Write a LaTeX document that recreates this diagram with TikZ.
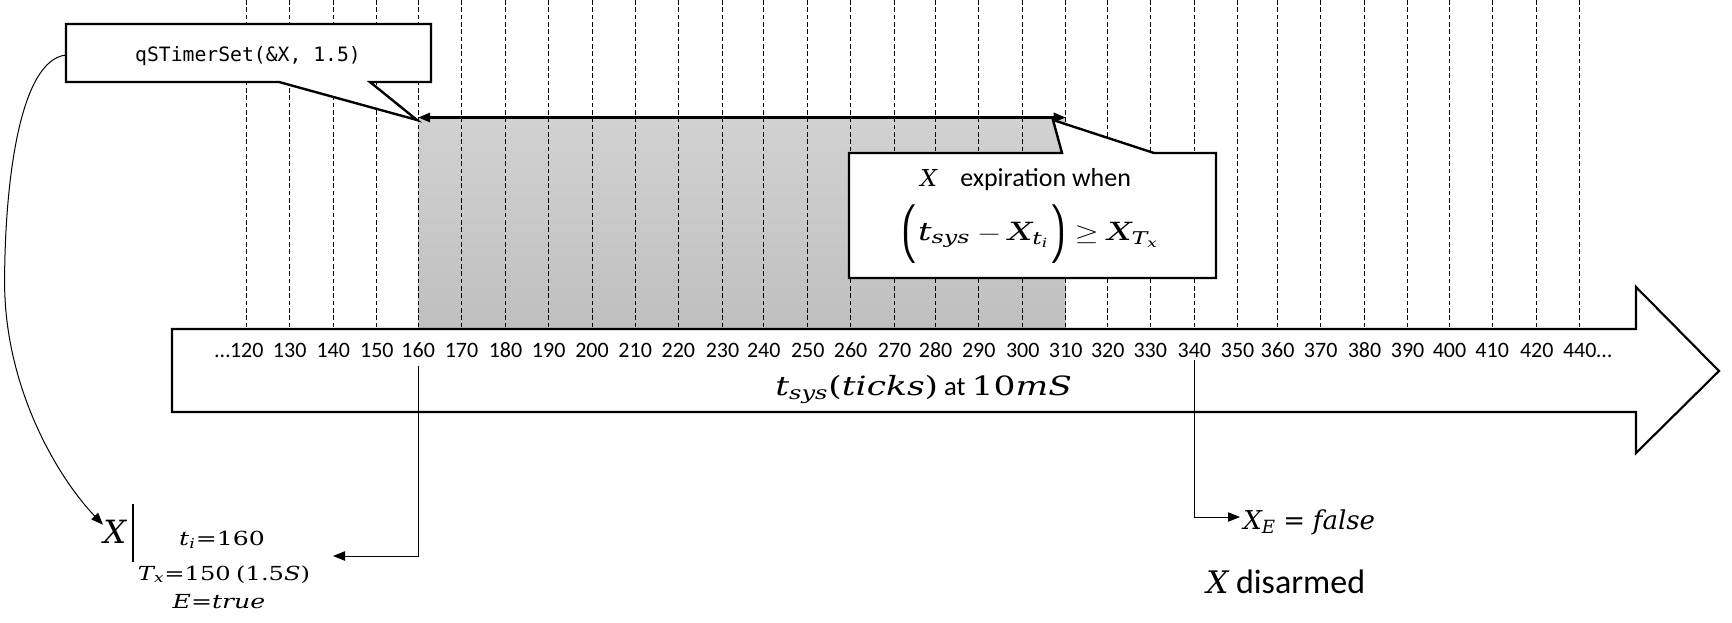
\documentclass[tikz,border=0pt]{standalone}
\usepackage{graphicx}
\usepackage[no-math]{fontspec}
\setmainfont{Carlito}
\setmonofont{DejaVu Sans Mono}
\newfontfamily\dvs[NFSSFamily=dvserif]{DejaVu Serif}
\DeclareSymbolFont{operators}{TU}{dvserif}{m}{n}
\DeclareSymbolFont{letters}{TU}{dvserif}{m}{it}
\mathcode`.="002E
\mathcode`,="602C
\usetikzlibrary{arrows.meta}
\newcommand\fsz[1]{\fontsize{#1}{#1}\selectfont}
\tikzset{
  dashline/.style={line width=0.75pt, dash pattern=on 3.5pt off 2pt},
  callout/.style={draw, fill=white, line width=1.8pt, line join=miter},
  conn/.style={line width=0.75pt, -{Triangle[length=9pt,width=7pt]}},
  ticklab/.style={inner sep=0pt, anchor=base, font=\fsz{16.5}},
  txt/.style={inner sep=0pt},
}
\begin{document}
\begin{tikzpicture}[x=0.75pt,y=-0.75pt]
\useasboundingbox (0,0) rectangle (1732,622);
% shaded interval
\shade[top color=black!18, bottom color=black!25] (418.2,118) rectangle (1065.7,329);
% dashed tick lines
\foreach \x in {246.8,289.7,333.3,376.9,418.2,461.5,505.5,548.7,592,635.2,678.4,722.5,763.8,807.8,850.6,894.6,935.6,978.8,1022.8,1065.7,1107.8,1150.3,1194.4,1237.6,1277.7,1320.7,1364.5,1407.6,1449.5,1492.2,1536.8,1579.8}
  \draw[dashline] (\x,0) -- (\x,329);
% interval double arrow
\coordinate (dL) at (418.2,117.5);
\coordinate (dR) at (1065.7,117.5);
\draw[line width=1.7pt, {Triangle[length=9pt,width=7pt]}-{Triangle[length=9pt,width=7pt]}] (dL) -- (dR);
% main time arrow
\draw[line width=1.6pt, fill=white, line join=miter]
  (172,329) -- (1636,329) -- (1636,287) -- (1719,371) -- (1636,453) -- (1636,412) -- (172,412) -- cycle;
% callout 1
\draw[callout] (66,24) -- (431,24) -- (431,82) -- (370,82) -- (417,120) -- (279,82) -- (66,82) -- cycle;
\node[txt, anchor=base, font=\ttfamily\fsz{14.8}] (qset) at (248,61.5) {qSTimerSet(\&X, 1.5)};
% callout 2
\draw[callout] (849,153) -- (1062,153) -- (1053,120) -- (1154,153) -- (1216,153) -- (1216,278) -- (849,278) -- cycle;
\node[txt, anchor=base west] (expX) at (920,186) {\fsz{17.5}$X$};
\node[txt, anchor=base west, font=\fsz{19.5}] (expT) at (960,186) {expiration when};
\node[txt, anchor=base] (expr) at (1030,240) {\fsz{18.8}\scalebox{1.35}[1]{$\left(t_{sys}-X_{t_i}\right)\geq X_{T_x}$}};
% tick labels
\foreach \x [count=\i] in {246.8,289.7,333.3,376.9,418.2,461.5,505.5,548.7,592,635.2,678.4,722.5,763.8,807.8,850.6,894.6,935.6,978.8,1022.8,1065.7,1107.8,1150.3,1194.4,1237.6,1277.7,1320.7,1364.5,1407.6,1449.5,1492.2,1536.8,1579.8}{
  \pgfmathtruncatemacro\lab{\i==32 ? 440 : 110+10*\i}
  \node[ticklab] (l\lab) at (\x,357) {\ifnum\i=1 \llap{…}\fi\lab\ifnum\i=32 \rlap{…}\fi};
}
% axis title
\node[txt, anchor=base west] (axis) at (775,395)
  {\fsz{19.9}\scalebox{1.3}[1]{$t_{sys}(ticks)$}{\fsz{20}\ at\ }\scalebox{1.3}[1]{$10mS$}};
% timer record
\node[txt, anchor=base west] (bigX) at (103,543) {\fsz{24}$X$};
\draw[line width=1.5pt] (132.7,504) -- (132.7,562);
\node[txt, anchor=base] (ti) at (222,545) {\fsz{14.5}\scalebox{1.3}[1]{$t_i{=}160$}};
\node[txt, anchor=base] (Tx) at (224,580) {\fsz{14.5}\scalebox{1.25}[1]{$T_x{=}150\ (1.5S)$}};
\node[txt, anchor=base] (Et) at (219,608) {\fsz{14.5}\scalebox{1.3}[1]{$E{=}true$}};
% expiry result
\node[txt, anchor=base west] (XE) at (1243,529) {\fsz{19.5}$X_E=false$};
\node[txt, anchor=base west] (dis) at (1206,593) {\fsz{23.3}$X$\fsz{25.5}\ disarmed};
% connectors
\coordinate (c1W) at (66,55);
\coordinate (infoIn) at (333,556);
\coordinate (xeIn) at (1240,517);
\draw[conn] (c1W) .. controls (20,60) and (5,180) .. (4.6,280) .. controls (4,390) and (60,480) .. ([yshift=5pt]bigX.west);
\draw[conn, shorten <=6.75pt] (l160.south) |- (infoIn);
\draw[conn, shorten <=2.25pt] (l340.south) |- (xeIn);
\end{tikzpicture}
\end{document}
